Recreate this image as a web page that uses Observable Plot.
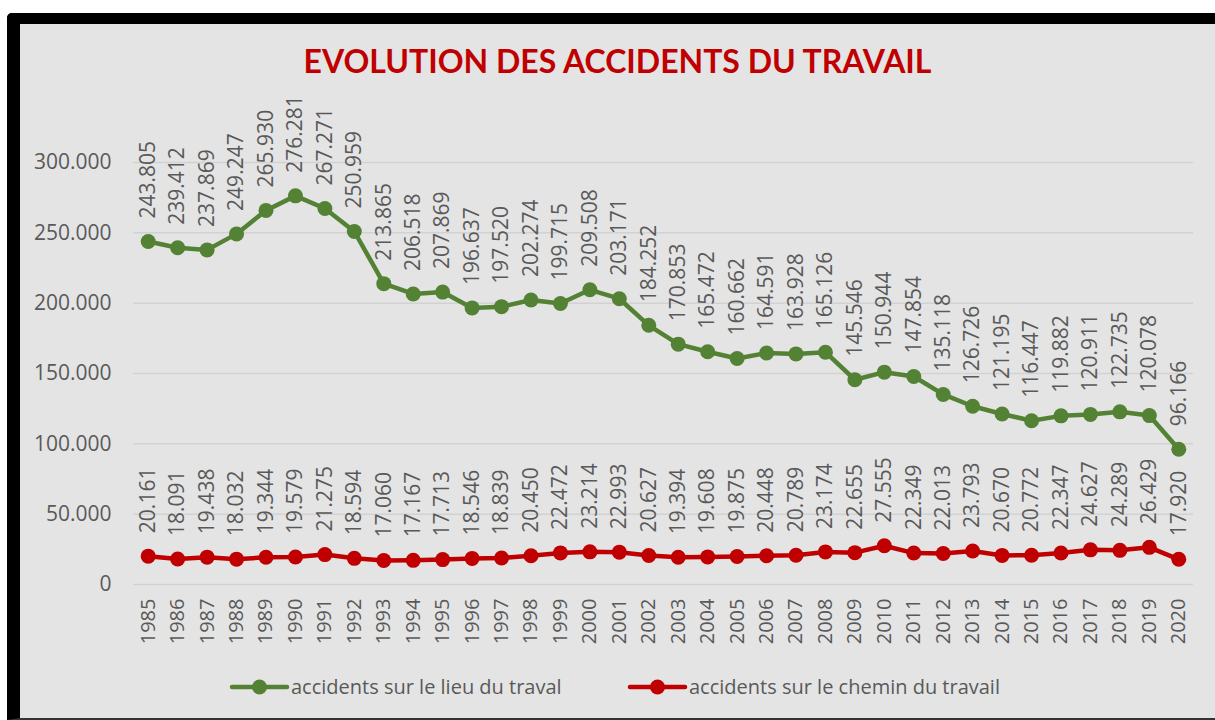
<!DOCTYPE html>
<html>
<head>
<meta charset="utf-8">
<script src="https://cdn.jsdelivr.net/npm/d3@7"></script>
<script src="https://cdn.jsdelivr.net/npm/@observablehq/plot@0.6"></script>
<style>
  html, body { margin: 0; padding: 0; background: #ffffff; width: 1215px; height: 720px; overflow: hidden; }
  #frame { position: absolute; left: 7px; top: 13px; width: 1208px; height: 707px; box-sizing: border-box;
           background: #e4e4e4; border-left: 13px solid #000; border-top: 11px solid #000;
           border-bottom: 2px solid #333; border-top-left-radius: 5px; }
  #title { position: absolute; left: 20px; width: 1195px; top: 45px; text-align: center;
           font-family: Lato, "Open Sans", sans-serif; font-weight: 700; font-size: 32px; line-height: 32px; color: #c00000; }
  #chart { position: absolute; left: 0; top: 90px; }
  #legend { position: absolute; left: 0; top: 672px; }
</style>
</head>
<body>
<div id="frame"></div>
<div id="title">EVOLUTION DES ACCIDENTS DU TRAVAIL</div>
<div id="chart"></div>
<div id="legend"></div>
<script>
const years = ["1985","1986","1987","1988","1989","1990","1991","1992","1993","1994","1995","1996",
  "1997","1998","1999","2000","2001","2002","2003","2004","2005","2006","2007","2008",
  "2009","2010","2011","2012","2013","2014","2015","2016","2017","2018","2019","2020"];
const lieuTravail = [243805,239412,237869,249247,265930,276281,267271,250959,213865,206518,207869,196637,
  197520,202274,199715,209508,203171,184252,170853,165472,160662,164591,163928,165126,
  145546,150944,147854,135118,126726,121195,116447,119882,120911,122735,120078,96166];
const cheminTravail = [20161,18091,19438,18032,19344,19579,21275,18594,17060,17167,17713,18546,
  18839,20450,22472,23214,22993,20627,19394,19608,19875,20448,20789,23174,
  22655,27555,22349,22013,23793,20670,20772,22347,24627,24289,26429,17920];
const yTicks = [0,50000,100000,150000,200000,250000,300000];
const seriesNames = ["accidents sur le lieu du traval", "accidents sur le chemin du travail"];
const seriesColors = ["#548235", "#c00000"];

const fmt = d3.formatLocale({decimal: ",", thousands: ".", grouping: [3], currency: ["", ""]}).format(",d");
const textColor = "#595959";

const green = years.map((y, i) => ({year: y, v: lieuTravail[i]}));
const red = years.map((y, i) => ({year: y, v: cheminTravail[i]}));

function seriesMarks(data, color) {
  return [
    Plot.line(data, {x: "year", y: "v", stroke: color, strokeWidth: 4.5, strokeLinejoin: "round"}),
    Plot.dot(data, {x: "year", y: "v", r: 7.5, fill: color, stroke: "none"}),
    Plot.text(data, {x: "year", y: "v", text: d => fmt(d.v), rotate: -90, textAnchor: "start",
      lineAnchor: "middle", dy: -23, fontSize: 21, fill: textColor})
  ];
}

const chart = Plot.plot({
  width: 1215, height: 570,
  marginLeft: 133, marginRight: 22, marginTop: 72, marginBottom: 76,
  style: {background: "transparent", fontFamily: "'Open Sans', sans-serif", color: textColor, overflow: "visible"},
  x: {type: "point", domain: years, padding: 0.5, round: false},
  y: {domain: [0, 300000]},
  marks: [
    Plot.gridY(yTicks, {stroke: "#d2d2d2", strokeOpacity: 1, strokeWidth: 1.5}),
    Plot.axisY({ticks: yTicks, tickSize: 0, tickPadding: 22, fontSize: 21, tickFormat: fmt, label: null, fill: textColor}),
    Plot.axisX({tickRotate: -90, tickSize: 0, tickPadding: 14, fontSize: 20, label: null, fill: textColor}),
    ...seriesMarks(green, seriesColors[0]),
    ...seriesMarks(red, seriesColors[1])
  ]
});
document.getElementById("chart").appendChild(chart);

// legend
const lg = d3.select("#legend").append("svg").attr("width", 1215).attr("height", 32)
  .style("font-family", "'Open Sans', sans-serif");
const legendX = [232, 630];
seriesNames.forEach((name, i) => {
  const x0 = legendX[i];
  const g = lg.append("g");
  g.append("line").attr("x1", x0).attr("x2", x0 + 55).attr("y1", 15).attr("y2", 15)
    .attr("stroke", seriesColors[i]).attr("stroke-width", 4.5).attr("stroke-linecap", "round");
  g.append("circle").attr("cx", x0 + 27.5).attr("cy", 15).attr("r", 7.5).attr("fill", seriesColors[i]);
  g.append("text").attr("x", x0 + 59).attr("y", 15).attr("dy", "0.35em").attr("font-size", 20)
    .attr("fill", textColor).text(name);
});
</script>
</body>
</html>
